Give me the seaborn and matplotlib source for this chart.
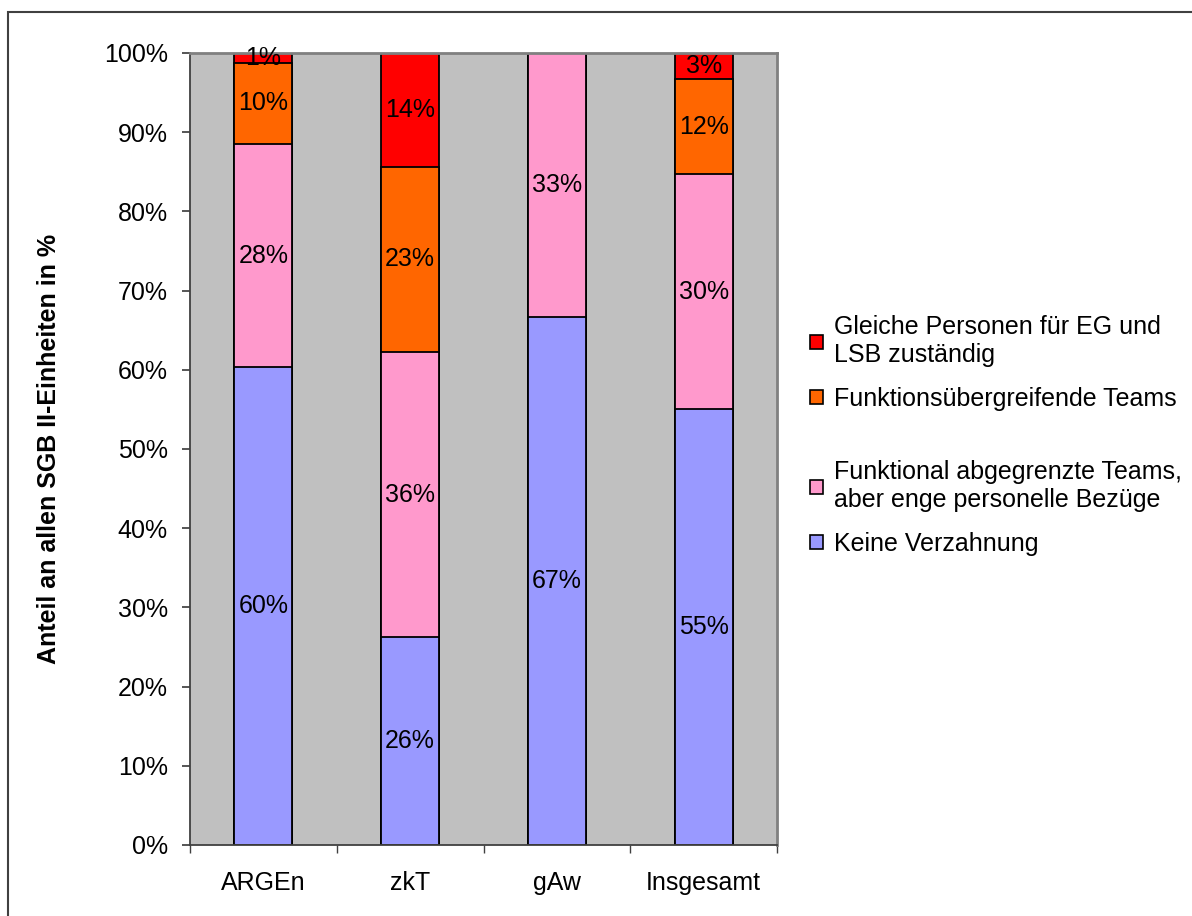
import numpy as np
import pandas as pd
import matplotlib
matplotlib.use("Agg")
import matplotlib.pyplot as plt
from matplotlib.patches import Rectangle, Patch
from matplotlib.ticker import FixedLocator
import seaborn as sns

categories = ["ARGEn", "zkT", "gAw", "Insgesamt"]
series_names = [
    "Keine Verzahnung",
    "Funktional abgegrenzte Teams,\naber enge personelle Bezüge",
    "Funktionsübergreifende Teams",
    "Gleiche Personen für EG und\nLSB zuständig",
]
keine = [60.3, 26.2, 66.7, 55.0]
funktional = [28.2, 36.1, 33.3, 29.7]
uebergreifend = [10.3, 23.3, 0.0, 12.0]
gleiche = [1.2, 14.4, 0.0, 3.3]
colors = ["#9999FF", "#FF99CC", "#FF6600", "#FF0000"]
yticks = [0, 10, 20, 30, 40, 50, 60, 70, 80, 90, 100]

sns.set_theme(style="white")
plt.rcParams["font.family"] = ["Liberation Sans", "DejaVu Sans"]
plt.rcParams["text.color"] = "black"
plt.rcParams["xtick.color"] = "black"
plt.rcParams["ytick.color"] = "black"
plt.rcParams["axes.labelcolor"] = "black"

FS = 18

fig = plt.figure(figsize=(11.92, 9.16), dpi=100)
ax = fig.add_axes([190 / 1192, 1 - 845 / 916, (777 - 190) / 1192, (845 - 53) / 916])
ax.set_facecolor("#C0C0C0")

series = [keine, funktional, uebergreifend, gleiche]
cum = np.cumsum(np.array(series), axis=0)

# draw from the top segment down so lower segments cover the upper ones
for i in range(len(series) - 1, -1, -1):
    df = pd.DataFrame({"cat": categories, "val": cum[i]})
    sns.barplot(data=df, x="cat", y="val", color=colors[i], width=0.395,
                edgecolor="black", linewidth=1.3, saturation=1, ax=ax,
                order=categories)

for i, s in enumerate(series):
    for j, v in enumerate(s):
        if v <= 0:
            continue
        mid = cum[i][j] - v / 2
        ax.text(j, mid, f"{v:.0f}%", ha="center", va="center", fontsize=FS,
                color="black", clip_on=False)

ax.set_xlim(-0.5, 3.5)
ax.set_ylim(0, 100)
ax.set_yticks(yticks)
ax.set_yticklabels([f"{t}%" for t in yticks])
ax.set_xlabel("")
ax.set_ylabel("Anteil an allen SGB II-Einheiten in %", fontsize=FS,
              fontweight="bold", labelpad=31)
ax.xaxis.set_minor_locator(FixedLocator([-0.5, 0.5, 1.5, 2.5, 3.5]))
ax.tick_params(axis="x", which="major", length=0, pad=19, labelsize=FS)
ax.tick_params(axis="x", which="minor", length=6, color="#404040", direction="out",
               bottom=True)
ax.tick_params(axis="y", which="major", length=6, color="#404040", direction="out",
               left=True, labelsize=FS, pad=10)
for side in ["left", "bottom"]:
    ax.spines[side].set_color("#404040")
    ax.spines[side].set_linewidth(1.3)
for side in ["top", "right"]:
    ax.spines[side].set_visible(True)
    ax.spines[side].set_color("#808080")
    ax.spines[side].set_linewidth(2)

handles = [Patch(facecolor=colors[i], edgecolor="black", linewidth=1.2)
           for i in range(len(series))]
leg_kw = dict(frameon=False, fontsize=FS, handlelength=0.5, handleheight=0.5,
              handletextpad=0.45, labelspacing=0.78, loc="center left")
leg_top = fig.legend([handles[3], handles[2]], [series_names[3], series_names[2]],
                     bbox_to_anchor=(0.661, 1 - 363 / 916), **leg_kw)
leg_bot = fig.legend([handles[1], handles[0]], [series_names[1], series_names[0]],
                     bbox_to_anchor=(0.661, 1 - 508 / 916), **leg_kw)

fig.patches.append(Rectangle((8 / 1192, -0.2), 2, 1 - 12 / 916 + 0.2,
                             transform=fig.transFigure, fill=False,
                             edgecolor="#404040", linewidth=1.5))

fig.savefig("out.png", dpi=100, facecolor="white")
